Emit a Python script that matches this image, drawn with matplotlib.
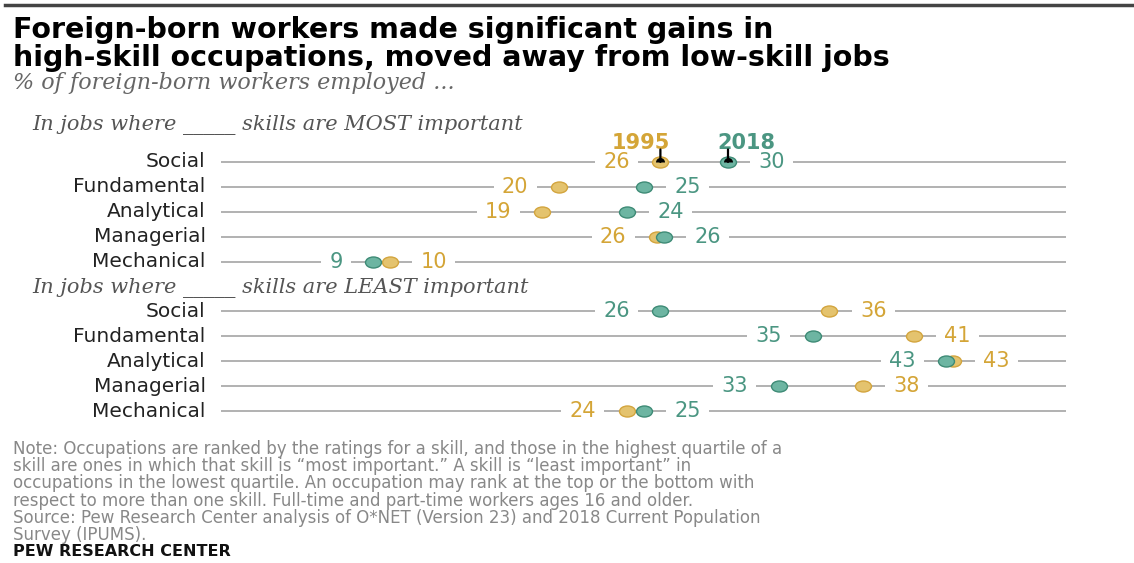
import numpy as np
import matplotlib.pyplot as plt
from matplotlib.path import Path
from matplotlib.markers import MarkerStyle
from matplotlib.transforms import Affine2D

# === Data: % of foreign-born workers employed, 1995 vs 2018 ===
skills = ['Social', 'Fundamental', 'Analytical', 'Managerial', 'Mechanical']
most_1995 = [26, 20, 19, 25.8, 10]
most_2018 = [30, 25, 24, 26.2, 9]
least_1995 = [36, 41, 43.3, 38, 24]
least_2018 = [26, 35, 42.9, 33, 25]

title = ("Foreign-born workers made significant gains in\n"
         "high-skill occupations, moved away from low-skill jobs")
subtitle = "% of foreign-born workers employed ..."
head_most = "In jobs where _____ skills are MOST important"
head_least = "In jobs where _____ skills are LEAST important"
note_lines = [
    "Note: Occupations are ranked by the ratings for a skill, and those in the highest quartile of a",
    "skill are ones in which that skill is \u201cmost important.\u201d A skill is \u201cleast important\u201d in",
    "occupations in the lowest quartile. An occupation may rank at the top or the bottom with",
    "respect to more than one skill. Full-time and part-time workers ages 16 and older.",
    "Source: Pew Research Center analysis of O*NET (Version 23) and 2018 Current Population",
    "Survey (IPUMS).",
]

GOLD_TXT = '#D4A537'
GOLD_FILL = '#E4C36E'
GOLD_EDGE = '#D3A53E'
GREEN_TXT = '#4B9682'
GREEN_FILL = '#6DB5A2'
GREEN_EDGE = '#3E8B76'
LINE = '#ABABAB'

W, H = 1134, 563
fig = plt.figure(figsize=(W / 100, H / 100), dpi=100)


def fy(py):
    return 1 - py / H


def fx(px):
    return px / W


# dot-plot axes: x 0..50, rows top to bottom
ax = fig.add_axes([fx(221), fy(423.5), fx(1066) - fx(221), (423.5 - 149.5) / H])
ax.set_xlim(0, 50)
ax.set_ylim(10.5, -0.5)
ax.axis('off')

ellipse = MarkerStyle(Path.unit_circle().transformed(Affine2D().scale(1.45, 1.0)))

rows_most = np.arange(len(skills))
rows_least = np.arange(len(skills)) + 6

for rows, v95, v18 in [(rows_most, most_1995, most_2018),
                       (rows_least, least_1995, least_2018)]:
    for r, a, b in zip(rows, v95, v18):
        ax.plot([0, 50], [r, r], color=LINE, lw=1.3, zorder=1, solid_capstyle='butt')
        # lower value labelled on the left, higher on the right
        pts = sorted([(a, GOLD_TXT), (b, GREEN_TXT)], key=lambda t: t[0])
        for (v, c), side in zip(pts, [-1, 1]):
            ax.annotate(f"{v:.0f}", (v, r), xytext=(side * 22, 0),
                        textcoords='offset points', ha='left' if side > 0 else 'right',
                        va='center', fontsize=15, color=c, zorder=2,
                        bbox=dict(facecolor='white', edgecolor='none', pad=6))
        ax.plot(a, r, marker=ellipse, ms=11.5, mfc=GOLD_FILL, mec=GOLD_EDGE, mew=1.0, zorder=3)
        ax.plot(b, r, marker=ellipse, ms=11.5, mfc=GREEN_FILL, mec=GREEN_EDGE, mew=1.0, zorder=4)

# row labels
for rows in (rows_most, rows_least):
    for r, s in zip(rows, skills):
        ax.annotate(s, (0, r), xytext=(-11, 0), textcoords='offset points',
                    ha='right', va='center', fontsize=14.5, color='#222222',
                    annotation_clip=False)

# year key on the first row
r0 = rows_most[0]
for v, lab, c, dx, ha in [(most_1995[0], '1995', GOLD_TXT, 7, 'right'),
                          (most_2018[0], '2018', GREEN_TXT, -8, 'left')]:
    ax.annotate('', (v, r0), xytext=(0, 9), textcoords='offset points',
                arrowprops=dict(arrowstyle='-', color='black', lw=1.6,
                                shrinkA=0, shrinkB=0), zorder=5)
    ax.plot(v, r0, marker='o', ms=6.5, fillstyle='top', mfc='black',
            mfcalt='none', mec='none', zorder=5)
    ax.annotate(lab, (v, r0), xytext=(dx, 14), textcoords='offset points',
                ha=ha, va='center', fontsize=15, fontweight='bold', color=c)

# section headers
for r, txt in [(-1.5, head_most), (5.05, head_least)]:
    ax.annotate(txt, (0, r), xycoords=('figure fraction', 'data'),
                xytext=(fx(32), 0), textcoords=('figure fraction', 'offset points'),
                ha='left', va='center', fontsize=15, style='italic',
                family='DejaVu Serif', color='#555555', annotation_clip=False)

# header, notes and rule
fig.add_artist(plt.Line2D([fx(5), 1], [fy(5), fy(5)], color='#444444', lw=2.5))
fig.text(fx(13), fy(16), title, ha='left', va='top', fontsize=20.5,
         fontweight='bold', color='black', linespacing=0.98)
fig.text(fx(13), fy(83), subtitle, ha='left', va='center', fontsize=16,
         style='italic', family='DejaVu Serif', color='#666666')
for i, line in enumerate(note_lines):
    fig.text(fx(13), fy(449 + i * 17.2), line, ha='left', va='center',
             fontsize=12, color='#888888')
fig.text(fx(13), fy(552), "PEW RESEARCH CENTER", ha='left', va='center',
         fontsize=11.5, fontweight='bold', color='#111111')

fig.savefig('out.png', dpi=100)
